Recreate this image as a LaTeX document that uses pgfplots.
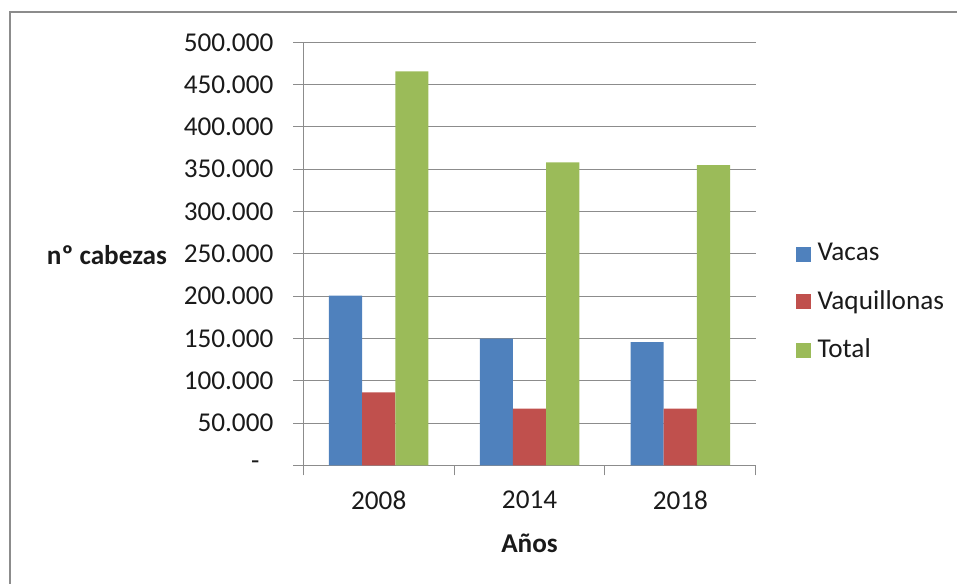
\documentclass[border=0pt]{standalone}
\usepackage{fontspec}
\setmainfont{Carlito}
\usepackage{pgfplots}
\pgfplotsset{compat=1.18}
\definecolor{xlblue}{HTML}{4F81BD}
\definecolor{xlred}{HTML}{C0504D}
\definecolor{xlgreen}{HTML}{9BBB59}
\definecolor{xlgrid}{HTML}{8C8C8C}
\definecolor{xltext}{HTML}{1A1A1A}
\newcommand{\chartfont}{\fontsize{20.4pt}{24pt}\selectfont}
\begin{document}
\chartfont
\begin{tikzpicture}
\useasboundingbox (0,0) rectangle (717.75pt,-437.25pt);
% outer chart frame (cut at right and bottom)
\draw[xlgrid, line width=1.5pt] (7.5pt,-460pt) -- (7.5pt,-9pt) -- (740pt,-9pt);
\begin{axis}[
  at={(227.5pt,-349pt)}, anchor=south west,
  scale only axis, width=339.3pt, height=317.25pt,
  ybar=0pt, bar width=0.22,
  xmin=-0.5, xmax=2.5, ymin=0, ymax=500000,
  scaled y ticks=false,
  axis x line*=bottom, axis y line*=left,
  axis line style={xlgrid, line width=0.75pt},
  xtick={0,1,2}, xticklabels={2008,2014,2018},
  major x tick style={draw=none},
  minor xtick={-0.5,0.5,1.5,2.5},
  ytick={0,50000,...,500000},
  yticklabels={-\hphantom{0},50.000,100.000,150.000,200.000,250.000,300.000,350.000,400.000,450.000,500.000},
  tick align=outside, major tick length=7.5pt, minor tick length=7.5pt,
  tick style={xlgrid, line width=0.75pt},
  ymajorgrids, grid style={xlgrid, line width=0.75pt},
  /pgf/number format/assume math mode=true,
  ticklabel style={font=\chartfont, text=xltext},
  yticklabel style={xshift=-8pt},
  xticklabel style={yshift=-5pt},
  ylabel={nº cabezas},
  ylabel style={rotate=-90, at={(axis description cs:-0.434,0.497)}, anchor=center, font=\chartfont\bfseries, text=xltext},
  xlabel={Años},
  xlabel style={at={(axis description cs:0.5,-0.184)}, anchor=center, font=\chartfont\bfseries, text=xltext},
  legend style={at={(axis description cs:1.08,0.385)}, anchor=west, draw=none, fill=none,
    font=\chartfont, text=xltext, row sep=15pt},
  legend cell align=left,
  legend image code/.code={\fill[#1] (0pt,-5.6pt) rectangle (11.25pt,5.6pt);
    \path (14pt,0pt);},
]
\addplot[fill=xlblue, draw=none] coordinates {(0,200500) (1,149700) (2,145700)};
\addplot[fill=xlred, draw=none] coordinates {(0,86300) (1,66900) (2,66900)};
\addplot[fill=xlgreen, draw=none] coordinates {(0,465700) (1,358000) (2,355000)};
\legend{Vacas,Vaquillonas,Total}
\end{axis}
\end{tikzpicture}
\end{document}
